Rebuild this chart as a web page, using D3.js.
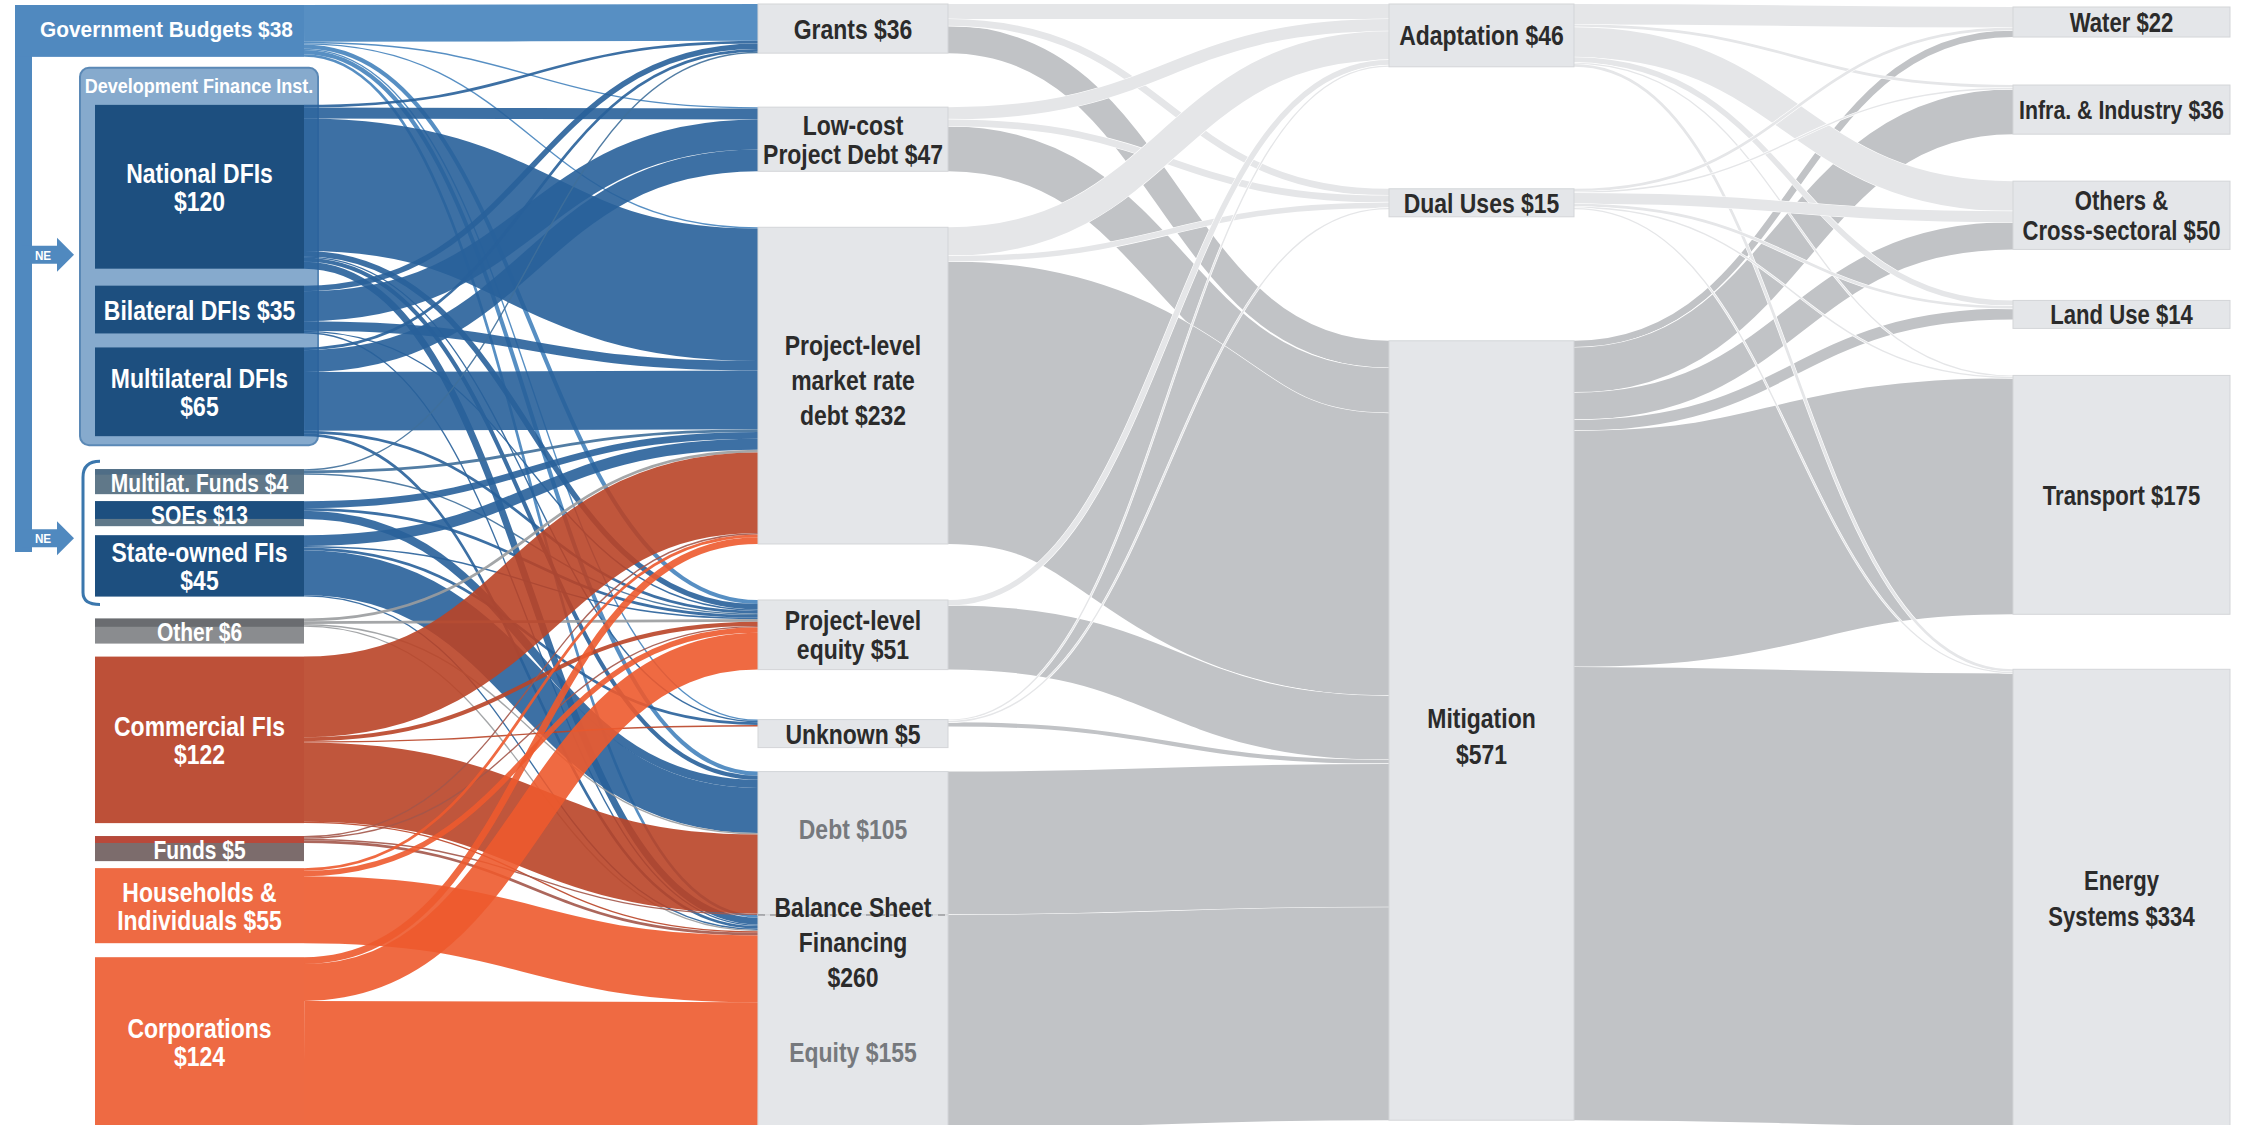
<!DOCTYPE html>
<html><head><meta charset="utf-8">
<script src="https://cdn.jsdelivr.net/npm/d3@7"></script>
<style>
html,body{margin:0;padding:0;background:#fff;overflow:hidden}
svg{display:block}
text{font-family:"Liberation Sans",Arial,"Noto Sans",sans-serif;font-weight:bold}
</style></head><body>
<svg id="chart" width="2242" height="1125"></svg>
<script>
// ---------------- DATA ----------------
const sourceNames = ["Government Budgets","National DFIs","Bilateral DFIs","Multilateral DFIs","Multilat. Funds","SOEs","State-owned FIs","Other","Commercial FIs","Funds","Households & Individuals","Corporations"];
const sourceValues = [38,120,35,65,4,13,45,6,122,5,55,124];
const sourceLabels = ["Government Budgets {v}","National DFIs|{v}","Bilateral DFIs {v}","Multilateral DFIs|{v}","Multilat. Funds {v}","SOEs {v}","State-owned FIs|{v}","Other {v}","Commercial FIs|{v}","Funds {v}","Households &|Individuals {v}","Corporations|{v}"];

const instrumentNames = ["Grants","Low-cost Project Debt","Project-level market rate debt","Project-level equity","Unknown","Balance Sheet Debt","Balance Sheet Equity"];
const instrumentValues = [36,47,232,51,5,105,155];
const instrumentLabels = ["Grants {v}","Low-cost|Project Debt {v}","Project-level|market rate|debt {v}","Project-level|equity {v}","Unknown {v}","Debt {v}","Equity {v}"];
const balanceSheetLabel = "Balance Sheet|Financing|{v}";

const useNames = ["Adaptation","Dual Uses","Mitigation"];
const useValues = [46,15,571];
const useLabels = ["Adaptation {v}","Dual Uses {v}","Mitigation|{v}"];

const sectorNames = ["Water","Infra. & Industry","Others & Cross-sectoral","Land Use","Transport","Energy Systems"];
const sectorValues = [22,36,50,14,175,334];
const sectorLabels = ["Water {v}","Infra. & Industry {v}","Others &|Cross-sectoral {v}","Land Use {v}","Transport {v}","Energy|Systems {v}"];

// flows (USD bn), rows = from, columns = to
//                        Grants LowCost PLDebt PLEq Unknown BSDebt BSEq
const sourceToInstrument = [
  [27, 1,  1,  3, 1,  3,  2],   // Government Budgets
  [ 2, 8, 97,  4, 1,  3,  5],   // National DFIs
  [ 4,22,  7,  1, 0,  0,  1],   // Bilateral DFIs
  [ 2,16, 43,  2, 0,  0,  2],   // Multilateral DFIs
  [ 1, 0,  2,  1, 0,  0,  0],   // Multilat. Funds
  [ 0, 0,  5,  2, 0,  6,  0],   // SOEs
  [ 0, 0,  8,  1, 2, 33,  1],   // State-owned FIs
  [ 0, 0,  2,  2, 0,  1,  1],   // Other
  [ 0, 0, 59,  3, 1, 58,  1],   // Commercial FIs
  [ 0, 0,  1,  1, 0,  1,  2],   // Funds
  [ 0, 0,  2,  4, 0,  0, 49],   // Households & Individuals
  [ 0, 0,  5, 27, 0,  0, 92]    // Corporations
];
//                     Adaptation Dual Mitigation
const instrumentToUse = [
  [11,5, 20],
  [ 9,5, 33],
  [21,4,207],
  [ 4,0, 47],
  [ 1,1,  3],
  [ 0,0,105],
  [ 0,0,156]
];
//                 Water Infra Others Land Transport Energy
const useToSector = [
  [15, 2,22,4,  1,  2],
  [ 2, 1, 8,2,  1,  1],
  [ 5,33,20,8,173,332]
];

// ---------------- LAYOUT / STYLE ----------------
const svg = d3.select("#chart");
const v = d3.scaleLinear().domain([0, 100]).range([0, 136.5]); // $bn -> px

const columns = [
  {names: sourceNames, values: sourceValues, x0: 95, x1: 304, gaps: [5,48,17,14,33,7,9,22,13,13,7,14], minBox: 25},
  {names: instrumentNames, values: instrumentValues, x0: 758, x1: 948, gaps: [4,54,56,56,50,24,0], minBox: 28},
  {names: useNames, values: useValues, x0: 1389, x1: 1574, gaps: [4,122,124], minBox: 28},
  {names: sectorNames, values: sectorValues, x0: 2013, x1: 2230, gaps: [7,48,47,51,47,55], minBox: 28}
];
const matrices = [sourceToInstrument, instrumentToUse, useToSector];

const GOV = "#5089bf", DFI = "#1d4f7f", PUBF = "#28609a";
const srcNodeColor = [GOV, DFI, DFI, DFI, "#4f6d86", DFI, DFI, "#6a6c70", "#bd5038", "#b9493a", "#ee6a43", "#ee6a43"];
const srcBoxColor  = [null,null,null,null,"#607889","#5f7889",null,"#8a8c8f",null,"#7c6c6c",null,null];
const srcLinkColor = ["#4583bd", PUBF, PUBF, PUBF, "#3f6f9a", PUBF, PUBF, "#9a9c9f", "#b94427", "#a3564a", "#ed5a2e", "#ed5a2e"];
const MID_GRAY = "#c1c3c6", LIGHT_GRAY = "#e5e6e8", NODE_GRAY = "#e4e6e9";

// ---------------- BUILD NODES ----------------
const nodes = columns.map((col, c) => col.names.map((name, i) => {
  let vin = 0, vout = 0;
  if (c > 0) matrices[c-1].forEach(row => vin += row[i]);
  if (c < 3) matrices[c][i].forEach(x => vout += x);
  return {c, i, name, value: Math.max(vin, vout), labelValue: col.values[i], x0: col.x0, x1: col.x1, outs: [], ins: []};
}));
nodes.forEach((colNodes, c) => {
  let y = 0;
  colNodes.forEach((n, i) => {
    y += columns[c].gaps[i];
    n.y0 = y;
    n.h = v(n.value);
    n.box = (c === 1 && i >= 5) ? n.h : Math.max(n.h, columns[c].minBox);
    y += n.box;
  });
});

// ---------------- BUILD LINKS ----------------
const links = [];
matrices.forEach((m, c) => {
  m.forEach((row, i) => row.forEach((val, j) => {
    if (val > 0) {
      const l = {source: nodes[c][i], target: nodes[c+1][j], value: val, c};
      links.push(l);
      l.source.outs.push(l); l.target.ins.push(l);
    }
  }));
});
nodes.flat().forEach(n => {
  let y = n.y0;
  n.outs.sort((a, b) => a.target.y0 - b.target.y0).forEach(l => { l.w = v(l.value); l.sy = y + l.w/2; y += l.w; });
  y = n.y0;
  n.ins.sort((a, b) => a.source.y0 - b.source.y0).forEach(l => { l.ty = y + v(l.value)/2; y += v(l.value); });
});

const linkGen = d3.linkHorizontal().x(d => d[0]).y(d => d[1]);
const linkPath = l => linkGen({source: [l.source.x1, l.sy], target: [l.target.x0, l.ty]});

// ---------------- BACKGROUND DECORATION ----------------
const gov = nodes[0][0];
svg.append("rect").attr("x", 15).attr("y", gov.y0).attr("width", 17).attr("height", 552 - gov.y0).attr("fill", GOV);
const nat = nodes[0][1], mul = nodes[0][3];
svg.append("rect").attr("x", 80).attr("y", nat.y0 - 37).attr("width", 238).attr("height", mul.y0 + mul.box + 9 - (nat.y0 - 37))
  .attr("rx", 9).attr("fill", "#86aacd").attr("stroke", "#5b89b6").attr("stroke-width", 2);
const mf = nodes[0][4], sofi = nodes[0][6];
svg.append("path").attr("d", `M100,${mf.y0 - 8} Q83,${mf.y0 - 8} 83,${mf.y0 + 8} L83,${sofi.y0 + sofi.box - 4} Q83,${sofi.y0 + sofi.box + 8} 100,${sofi.y0 + sofi.box + 8}`)
  .attr("fill", "none").attr("stroke", "#3b77ad").attr("stroke-width", 3);
const arrowYs = [nat.y0 + 150, sofi.y0 + 3];
arrowYs.forEach(cy => {
  svg.append("path").attr("d", `M22,${cy-9} L57,${cy-9} L57,${cy-17} L74,${cy} L57,${cy+17} L57,${cy+9} L22,${cy+9} Z`).attr("fill", GOV);
});

// ---------------- LINKS ----------------
const gLinks = svg.append("g").attr("fill", "none");
gLinks.selectAll("path.l0").data(links.filter(l => l.c === 0)).join("path").attr("class", "l0")
  .attr("d", linkPath).attr("stroke", l => srcLinkColor[l.source.i]).attr("stroke-width", l => l.w).attr("stroke-opacity", 0.9);
const isMitig = l => (l.c === 1 && l.target.i === 2) || (l.c === 2 && l.source.i === 2);
const grayLinks = links.filter(l => l.c > 0 && isMitig(l)).concat(links.filter(l => l.c > 0 && !isMitig(l)));
grayLinks.forEach(l => {
  gLinks.append("path").attr("d", linkPath(l)).attr("stroke", "#fff").attr("stroke-width", l.w + 1.2);
  gLinks.append("path").attr("d", linkPath(l)).attr("stroke", isMitig(l) ? MID_GRAY : LIGHT_GRAY).attr("stroke-width", l.w);
});

// ---------------- NODES ----------------
const gNodes = svg.append("g");
nodes[0].forEach(n => {
  const x = n.i === 0 ? 15 : n.x0;
  if (srcBoxColor[n.i] && n.box > n.h) {
    gNodes.append("rect").attr("x", x).attr("y", n.y0).attr("width", n.x1 - x).attr("height", n.box).attr("fill", srcBoxColor[n.i]);
  }
  gNodes.append("rect").attr("x", x).attr("y", n.y0).attr("width", n.x1 - x).attr("height", n.h).attr("fill", srcNodeColor[n.i]);
});
[1, 2, 3].forEach(c => nodes[c].forEach(n => {
  gNodes.append("rect").attr("x", n.x0).attr("y", n.y0).attr("width", n.x1 - n.x0).attr("height", n.box)
    .attr("fill", NODE_GRAY).attr("stroke", "#d3d5d8").attr("stroke-width", 1);
}));
const bsDebt = nodes[1][5];
gNodes.append("line").attr("x1", bsDebt.x0).attr("x2", bsDebt.x1).attr("y1", bsDebt.y0 + bsDebt.h).attr("y2", bsDebt.y0 + bsDebt.h)
  .attr("stroke", "#9a9ca0").attr("stroke-width", 1.5).attr("stroke-dasharray", "7,5");

// ---------------- LABELS ----------------
const fmt = (tpl, val) => tpl.replace("{v}", "$" + val).split("|");
function label(lines, cx, cy, fs, lh, color, anchor, sx) {
  const t = svg.append("text").attr("text-anchor", anchor || "middle").attr("font-size", fs).attr("fill", color)
    .attr("transform", `translate(${cx},0) scale(${sx || 0.82},1)`);
  const n = lines.length;
  lines.forEach((ln, i) => t.append("tspan").attr("x", 0).attr("y", cy - (n - 1) * lh / 2 + i * lh + fs * 0.36).text(ln));
}
label(["Development Finance Inst."], 199, nat.y0 - 19, 21, 21, "#fff", "middle", 0.86);
arrowYs.forEach(cy => label(["NE"], 43, cy, 13, 13, "#fff", "middle", 0.9));

nodes[0].forEach(n => {
  const lines = fmt(sourceLabels[n.i], n.labelValue);
  const cy = n.y0 + n.box / 2;
  if (n.i === 0) { label(lines, 40, n.y0 + 24, 22, 24, "#fff", "start", 0.95); return; }
  const small = n.box > n.h;
  label(lines, (n.x0 + n.x1) / 2, cy + (small ? 1 : 0), small ? 25 : 28, 28, "#fff", "middle", small ? 0.84 : 0.82);
});
nodes[1].forEach(n => {
  const lines = fmt(instrumentLabels[n.i], n.labelValue);
  const cx = (n.x0 + n.x1) / 2;
  if (n.i === 5) { label(lines, cx, n.y0 + 57, 28, 30, "#76797d"); return; }
  if (n.i === 6) { label(lines, cx, n.y0 + 137, 28, 30, "#76797d"); return; }
  const lh = n.i === 2 ? 35 : 29;
  label(lines, cx, n.y0 + n.box / 2 + (n.i === 2 ? -6 : 0), 28, lh, "#2b2b2b");
});
{
  const total = instrumentValues[5] + instrumentValues[6];
  const yDiv = bsDebt.y0 + bsDebt.h;
  label(fmt(balanceSheetLabel, total), (bsDebt.x0 + bsDebt.x1) / 2, yDiv + 27, 28, 35, "#2b2b2b");
}
nodes[2].forEach(n => {
  label(fmt(useLabels[n.i], n.labelValue), (n.x0 + n.x1) / 2, n.y0 + n.box / 2 + (n.i === 2 ? 5 : 0), 28, 36, "#2b2b2b");
});
nodes[3].forEach(n => {
  const fs = n.i === 1 ? 26 : 27;
  const lh = n.i === 5 ? 36 : 30;
  label(fmt(sectorLabels[n.i], n.labelValue), (n.x0 + n.x1) / 2, n.y0 + n.box / 2, fs, lh, "#2b2b2b");
});
</script>
</body></html>
